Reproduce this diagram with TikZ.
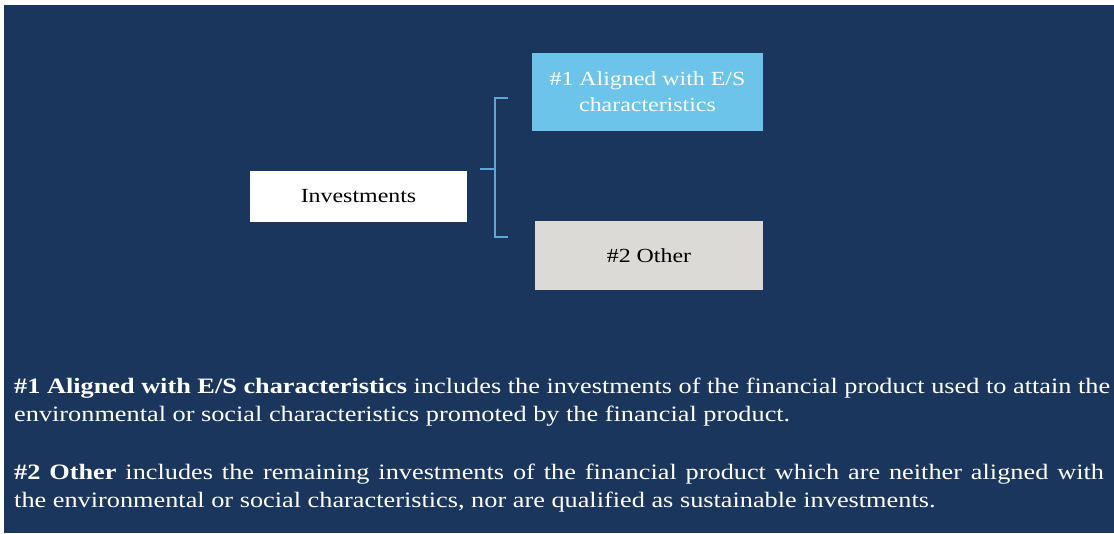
\documentclass[tikz,border=0pt]{standalone}
\usepackage{fontspec}
\setmainfont{Liberation Serif}[FakeStretch=1.195]
\definecolor{navy}{HTML}{1B365D}
\definecolor{lblue}{HTML}{6CC4EA}
\definecolor{lgray}{HTML}{DCDAD7}
\definecolor{brk}{HTML}{5BA8D8}
\tikzset{
  box/.style={draw=none, inner sep=0pt, align=center},
  desc/.style={anchor=base west, inner sep=0pt, text=white, font=\fontsize{22}{26}\selectfont},
  brline/.style={draw=brk, line width=2pt}
}
\begin{document}
\begin{tikzpicture}[x=1pt,y=-1pt]
\useasboundingbox (0,0) rectangle (1114,533);
\fill[white] (0,0) rectangle (1114,533);
\fill[navy] (4,5) rectangle (1114,533);
% boxes
\node[box, fill=white, minimum width=217pt, minimum height=51pt, font=\fontsize{20}{24}\selectfont] (inv) at (358.5,196.5) {Investments};
\node[box, fill=lblue, text=white, minimum width=231pt, minimum height=78pt, font=\fontsize{20}{26}\selectfont] (al) at (647.5,92) {\#1 Aligned with E/S\\characteristics};
\node[box, fill=lgray, minimum width=228pt, minimum height=69pt, font=\fontsize{20}{24}\selectfont] (ot) at (649,255.5) {\#2 Other};
% bracket
\coordinate (bt) at (495,98);
\coordinate (bb) at (495,237);
\coordinate (bm) at (495,169);
\coordinate (tt) at (508,98);
\coordinate (tb) at (508,237);
\coordinate (st) at (480,169);
\draw[brline] (tt) -- (bt) -- (bb) -- (tb);
\draw[brline] (st) -- (bm);
% description
\node[desc] (d1) at (14,393) {\textbf{\#1 Aligned with E/S characteristics} includes the investments of the financial product used to attain the};
\node[desc] (d2) at (14,421) {environmental or social characteristics promoted by the financial product.};
\node[desc] (d3) at (14,479) {\spaceskip=8.9pt\textbf{\#2 Other} includes the remaining investments of the financial product which are neither aligned with};
\node[desc] (d4) at (14,507) {the environmental or social characteristics, nor are qualified as sustainable investments.};
\end{tikzpicture}
\end{document}
